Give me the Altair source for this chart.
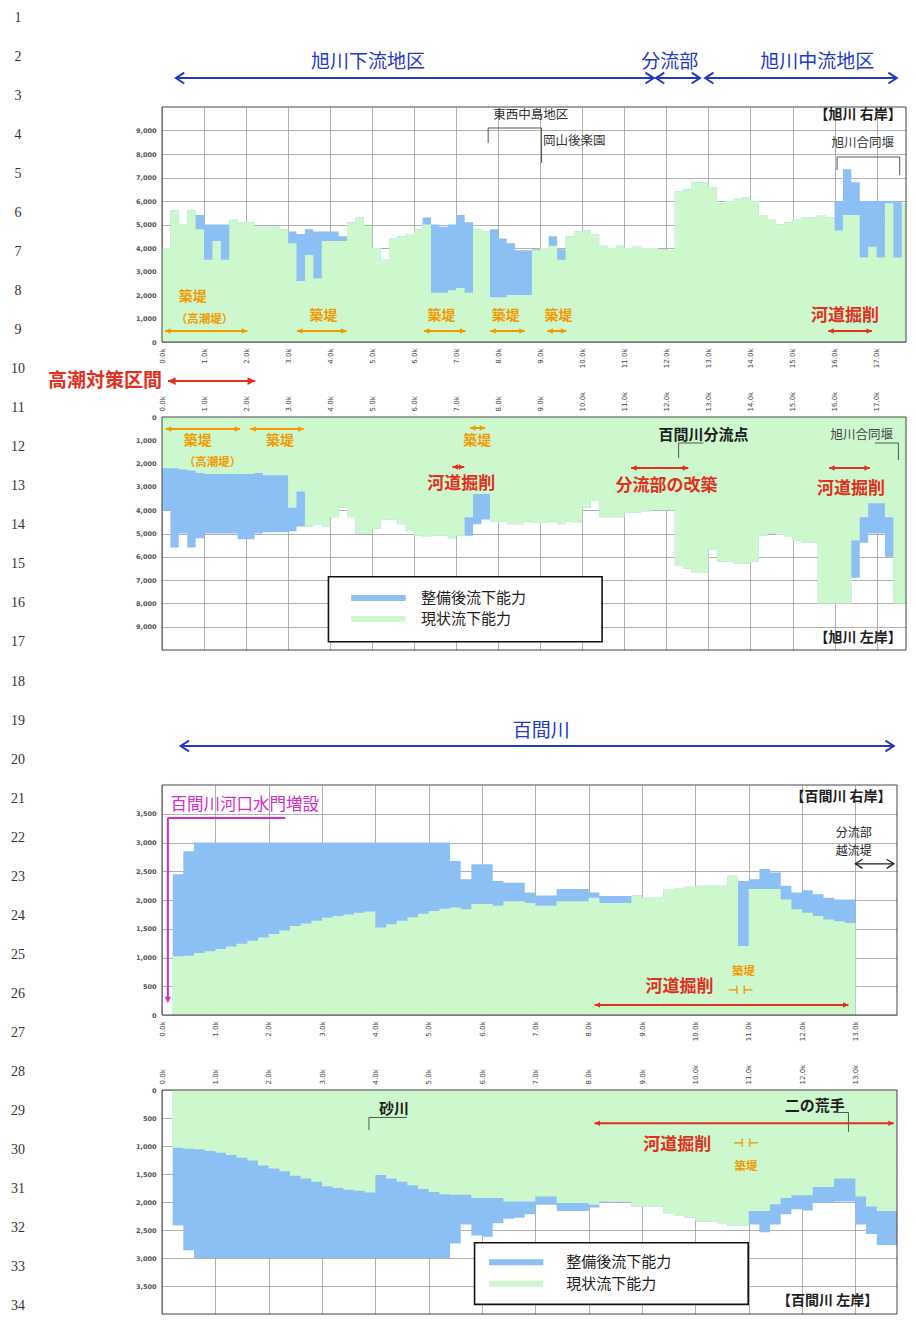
import altair as alt
import pandas as pd

JP = "Noto Sans CJK JP"
BLUE_FILL = "#8cc0f4"
GREEN_FILL = "#cdf8cd"
ANN_BLUE = "#2438c6"
RED = "#e2301f"
ORANGE = "#f29a00"
MAGENTA = "#d02ccb"
INK = "#1e1e1e"
GRID = "#9c9c9c"

# ---------------- sections (km) ----------------
ASAHI_KM = [
    0.0, 0.2, 0.4, 0.6, 0.8, 1.0, 1.2, 1.4, 1.6, 1.8,
    2.0, 2.2, 2.4, 2.6, 2.8, 3.0, 3.2, 3.4, 3.6, 3.8,
    4.0, 4.2, 4.4, 4.6, 4.8, 5.0, 5.2, 5.4, 5.6, 5.8,
    6.0, 6.2, 6.4, 6.6, 6.8, 7.0, 7.2, 7.4, 7.6, 7.8,
    8.0, 8.2, 8.4, 8.6, 8.8, 9.0, 9.2, 9.4, 9.6, 9.8,
    10.0, 10.2, 10.4, 10.6, 10.8, 11.0, 11.2, 11.4, 11.6, 11.8,
    12.0, 12.2, 12.4, 12.6, 12.8, 13.0, 13.2, 13.4, 13.6, 13.8,
    14.0, 14.2, 14.4, 14.6, 14.8, 15.0, 15.2, 15.4, 15.6, 15.8,
    16.0, 16.2, 16.4, 16.6, 16.8, 17.0, 17.2, 17.4, 17.6]
ASAHI_END = 17.7
ASAHI_TICKS = [0, 1, 2, 3, 4, 5, 6, 7, 8, 9, 10, 11, 12, 13, 14, 15, 16, 17]

# 旭川 右岸: 現状流下能力 (current) / 整備後流下能力 (after improvement)
ASAHI_R_CUR = [
    4000, 5600, 5000, 5600, 4800, 3500, 4300, 3500, 5200, 5100,
    5100, 4900, 4900, 4900, 4800, 4200, 2600, 3700, 2700, 4300,
    4300, 4300, 5100, 5300, 4900, 4000, 3500, 4400, 4500, 4600,
    4800, 5000, 2100, 2100, 2200, 2300, 2100, 4800, 4700, 1900,
    1900, 2000, 2000, 2000, 3900, 4000, 4100, 3500, 4500, 4700,
    4750, 4600, 4100, 4000, 4100, 4000, 4050, 4000, 4000, 3950,
    3900, 6400, 6500, 6800, 6800, 6600, 5900, 6000, 6100, 6150,
    6000, 5400, 5200, 5000, 5100, 5200, 5300, 5300, 5400, 5300,
    4750, 5400, 5400, 3600, 4050, 3600, 5900, 3600, 5900]
ASAHI_R_PLAN = [
    None, None, None, None, 5400, 5000, 5000, 5000, None, None,
    None, None, None, None, None, 4700, 4600, 4800, 4700, 4700,
    4700, 4500, None, None, None, None, None, None, None, None,
    None, 5300, 5000, 4900, 5000, 5400, 5100, None, None, 4800,
    4400, 4200, 3900, 3900, 3950, None, 4500, 3950, None, None,
    None, None, None, None, None, None, None, None, None, None,
    None, None, None, None, None, None, None, None, None, None,
    None, None, None, None, None, None, None, None, None, None,
    6000, 7350, 6800, 6000, 6000, 6000, 6000, 6000, None]

# 旭川 左岸
ASAHI_L_CUR = [
    2200, 2200, 2250, 2300, 2400, 2450, 2450, 2450, 2450, 2450,
    2450, 2400, 2500, 2500, 2500, 3900, 3200, 4700, 4600, 4700,
    4300, 3900, 4300, 5000, 5000, 4800, 4400, 4400, 4600, 4900,
    5100, 5150, 5100, 5100, 5200, 5100, 4300, 3300, 3300, 4500,
    4500, 4600, 4600, 4500, 4550, 4550, 4500, 4600, 4500, 4550,
    3900, 3600, 4300, 4300, 4300, 4100, 4100, 4050, 4000, 4000,
    4000, 6400, 6500, 6700, 6700, 5700, 6200, 6200, 6300, 6300,
    6200, 5100, 5000, 5050, 5150, 5300, 5400, 5400, 8000, 8000,
    8000, 8000, 5300, 4300, 3700, 3700, 4300, 8000, 8000]
ASAHI_L_PLAN = [
    4000, 5600, 5000, 5600, 5200, 5000, 5000, 5000, 5000, 5250,
    5250, 5000, 4950, 4950, 4950, 4900, 4700, None, None, None,
    None, None, None, None, None, None, None, None, None, None,
    None, None, None, None, None, None, 5100, 4600, 4400, None,
    None, None, None, None, None, None, None, None, None, None,
    None, None, None, None, None, None, None, None, None, None,
    None, None, None, None, None, None, None, None, None, None,
    None, None, None, None, None, None, None, None, None, None,
    None, None, 6900, 5400, 5000, 5000, 6000, None, None]

HYAKKEN_R_KM = [
    0.2, 0.4, 0.6, 0.8, 1.0, 1.2, 1.4, 1.6, 1.8, 2.0,
    2.2, 2.4, 2.6, 2.8, 3.0, 3.2, 3.4, 3.6, 3.8, 4.0,
    4.2, 4.4, 4.6, 4.8, 5.0, 5.2, 5.4, 5.6, 5.8, 6.0,
    6.2, 6.4, 6.6, 6.8, 7.0, 7.2, 7.4, 7.6, 7.8, 8.0,
    8.2, 8.4, 8.6, 8.8, 9.0, 9.2, 9.4, 9.6, 9.8, 10.0,
    10.2, 10.4, 10.6, 10.8, 11.0, 11.2, 11.4, 11.6, 11.8, 12.0,
    12.2, 12.4, 12.6, 12.8]
HYAKKEN_R_END = 13.0
HYAKKEN_L_KM = [
    0.2, 0.4, 0.6, 0.8, 1.0, 1.2, 1.4, 1.6, 1.8, 2.0,
    2.2, 2.4, 2.6, 2.8, 3.0, 3.2, 3.4, 3.6, 3.8, 4.0,
    4.2, 4.4, 4.6, 4.8, 5.0, 5.2, 5.4, 5.6, 5.8, 6.0,
    6.2, 6.4, 6.6, 6.8, 7.0, 7.2, 7.4, 7.6, 7.8, 8.0,
    8.2, 8.4, 8.6, 8.8, 9.0, 9.2, 9.4, 9.6, 9.8, 10.0,
    10.2, 10.4, 10.6, 10.8, 11.0, 11.2, 11.4, 11.6, 11.8, 12.0,
    12.2, 12.4, 12.6, 12.8, 13.0, 13.2, 13.4, 13.6]
HYAKKEN_L_END = 13.78
HYAKKEN_DOMAIN_END = 13.78
HYAKKEN_TICKS = [0, 1, 2, 3, 4, 5, 6, 7, 8, 9, 10, 11, 12, 13]

# 百間川 右岸
HYAKKEN_R_CUR = [
    1020, 1030, 1080, 1110, 1150, 1190, 1240, 1290, 1350, 1410,
    1470, 1550, 1590, 1640, 1690, 1720, 1750, 1780, 1800, 1520,
    1580, 1640, 1700, 1760, 1810, 1850, 1870, 1840, 1930, 1930,
    1900, 1980, 1980, 1950, 1900, 1900, 1980, 1980, 1980, 2040,
    1950, 1950, 1950, 2070, 2040, 2040, 2190, 2210, 2230, 2250,
    2250, 2250, 2420, 1200, 2190, 2190, 2190, 2010, 1840, 1780,
    1720, 1660, 1630, 1600]
HYAKKEN_R_PLAN = [
    2450, 2850, 3000, 3000, 3000, 3000, 3000, 3000, 3000, 3000,
    3000, 3000, 3000, 3000, 3000, 3000, 3000, 3000, 3000, 3000,
    3000, 3000, 3000, 3000, 3000, 3000, 2680, 2360, 2620, 2620,
    2330, 2300, 2300, 2130, 2080, 2080, 2190, 2190, 2190, 2130,
    2070, 2070, 2070, 2080, None, None, None, None, None, None,
    None, None, None, 2330, 2360, 2540, 2480, 2250, 2130, 2170,
    2100, 2040, 2010, 2010]

# 百間川 左岸
HYAKKEN_L_CUR = [
    1030, 1050, 1060, 1090, 1120, 1160, 1210, 1260, 1350, 1400,
    1450, 1530, 1580, 1640, 1720, 1750, 1780, 1800, 1830, 1520,
    1580, 1640, 1700, 1770, 1820, 1860, 1870, 1870, 1930, 1930,
    1930, 1990, 1990, 1990, 1900, 1900, 2020, 2020, 2020, 2050,
    1990, 1990, 1990, 2080, 2080, 2080, 2200, 2250, 2280, 2350,
    2350, 2380, 2420, 2420, 2160, 2160, 2040, 1930, 1880, 1880,
    1730, 1730, 1580, 1580, 1900, 2080, 2160, 2160]
HYAKKEN_L_PLAN = [
    2420, 2860, 3000, 3000, 3000, 3000, 3000, 3000, 3000, 3000,
    3000, 3000, 3000, 3000, 3000, 3000, 3000, 3000, 3000, 3000,
    3000, 3000, 3000, 3000, 3000, 3000, 2740, 2400, 2600, 2620,
    2380, 2300, 2280, 2220, 2050, 2050, 2160, 2160, 2160, 2100,
    2020, None, None, None, None, None, None, None, None, None,
    None, None, None, None, 2400, 2540, 2400, 2220, 2130, 2150,
    2020, 2020, 1990, 1990, 2400, 2570, 2770, 2770]

ASAHI_Y_TICKS = [0, 1000, 2000, 3000, 4000, 5000, 6000, 7000, 8000, 9000]
HYAKKEN_Y_TICKS = [0, 500, 1000, 1500, 2000, 2500, 3000, 3500]

LEGEND_NAMES = ["整備後流下能力", "現状流下能力"]
LINE_NUMBERS = list(range(1, 35))

# ---------------- annotations (km, capacity units) ----------------
A_TOP_LABELS = [("旭川下流地区", 4.9, 11900), ("分流部", 12.08, 11900), ("旭川中流地区", 15.59, 11900)]
A_TOP_ARROWS = [(0.33, 11.7, 11230), (11.75, 12.8, 11230), (12.92, 17.48, 11230)]
A_TIDE_LABEL = [("高潮対策区間", 0.0, -1660)]
A_TIDE_ARROW = [(0.14, 2.22, -1660)]
AR_EMB_LABELS = [("築堤", 0.73, 1915), ("築堤", 3.84, 1106), ("築堤", 6.65, 1106),
                 ("築堤", 8.18, 1106), ("築堤", 9.43, 1106)]
AR_TIDE_WALL = [("（高潮堤）", 1.01, 936)]
AR_EMB_ARROWS = [(0.07, 2.03, 468), (3.21, 4.39, 468), (6.23, 7.22, 468),
                 (7.81, 8.63, 468), (9.17, 9.62, 468)]
AR_DREDGE_LABELS = [("河道掘削", 16.25, 1106)]
AR_DREDGE_ARROWS = [(15.85, 16.89, 468)]
AR_PLACE_LABELS = [("東西中島地区", 8.77, 9660), ("岡山後楽園", 9.81, 8553), ("旭川合同堰", 16.67, 8468)]
AR_PLACE_LINES = [(7.76, 9106, 9.03, 9106), (7.76, 9106, 7.76, 8468), (9.03, 9106, 9.03, 7617),
                  (16.06, 7872, 17.55, 7872), (16.06, 7872, 16.06, 7319), (17.55, 7872, 17.55, 7106)]
AR_BANK = [("【旭川 右岸】", 16.56, 9660)]

AL_EMB_LABELS = [("築堤", 0.85, 1030), ("築堤", 2.81, 1030), ("築堤", 7.5, 1030)]
AL_TIDE_WALL = [("（高潮堤）", 1.2, 1974)]
AL_EMB_ARROWS = [(0.09, 1.86, 515), (2.10, 3.37, 515), (7.33, 7.69, 472)]
AL_RED_LABELS = [("河道掘削", 7.12, 2876), ("分流部の改築", 12.0, 2961), ("河道掘削", 16.39, 3090)]
AL_RED_ARROWS = [(6.91, 7.19, 2146), (11.16, 12.52, 2189), (15.87, 16.84, 2189)]
AL_FORK_LABEL = [("百間川分流点", 12.88, 773)]
AL_WEIR_LABEL = [("旭川合同堰", 16.65, 773)]
AL_PLACE_LINES = [(12.29, 1116, 12.88, 1116), (12.29, 1116, 12.29, 1760),
                  (16.96, 1116, 17.52, 1116), (17.52, 1116, 17.52, 1845)]
AL_LEGEND_BOX = [(3.96, 10.47, 6854, 9644)]
AL_LEGEND_BLUE = [(4.5, 5.8, 7768)]
AL_LEGEND_GREEN = [(4.5, 5.8, 8670)]
AL_LEGEND_TEXT = [(LEGEND_NAMES[0], 6.16, 7768), (LEGEND_NAMES[1], 6.16, 8670)]
AL_BANK = [("【旭川 左岸】", 16.56, 9485)]

H_TOP_LABEL = [("百間川", 7.11, 4939)]
H_TOP_ARROW = [(0.35, 13.72, 4678)]
HR_GATE_LABEL = [("百間川河口水門増設", 0.16, 3652)]
HR_GATE_LINES = [(0.11, 3426, 2.31, 3426), (0.11, 3426, 0.11, 280)]
HR_GATE_HEAD = [(0.11, 209)]
HR_WEIR_LABELS = [("分流部", 12.97, 3160), ("越流堤", 12.97, 2850)]
HR_WEIR_ARROW = [(13.0, 13.72, 2630)]
HR_EMB_LABEL = [("築堤", 10.9, 748)]
HR_EMB_MARK = [("⊣ ⊢", 10.85, 435)]
HR_DREDGE_LABEL = [("河道掘削", 9.7, 487)]
HR_DREDGE_ARROW = [(8.11, 12.87, 174)]
HR_BANK = [("【百間川 右岸】", 12.73, 3791)]

HL_PLACE_LABELS = [("砂川", 4.35, 332), ("二の荒手", 12.24, 280)]
HL_PLACE_LINES = [(3.88, 490, 4.59, 490), (3.88, 490, 3.88, 717),
                  (12.59, 402, 12.87, 402), (12.87, 402, 12.87, 752)]
HL_DREDGE_ARROW = [(8.11, 13.72, 594)]
HL_DREDGE_LABEL = [("河道掘削", 9.66, 979)]
HL_EMB_MARK = [("⊣ ⊢", 10.95, 944)]
HL_EMB_LABEL = [("築堤", 10.95, 1381)]
HL_LEGEND_BOX = [(5.86, 10.99, 2727, 3829)]
HL_LEGEND_BLUE = [(6.13, 7.15, 3077)]
HL_LEGEND_GREEN = [(6.13, 7.15, 3462)]
HL_LEGEND_TEXT = [(LEGEND_NAMES[0], 7.58, 3077), (LEGEND_NAMES[1], 7.58, 3462)]
HL_BANK = [("【百間川 左岸】", 12.48, 3776)]


# ---------------- helpers ----------------
def step_table(kms, end, cur, plan):
    plan_full = [p if p is not None else c for p, c in zip(plan, cur)]
    return pd.DataFrame({
        "km": list(kms) + [end],
        "cur": list(cur) + [cur[-1]],
        "plan": plan_full + [plan_full[-1]],
    })


def x_axis(values, orient):
    return alt.Axis(values=values, orient=orient, title="",
                    labelExpr="format(datum.value, '.1f') + 'k'",
                    labelAngle=270, labelFontSize=7, labelColor="#444",
                    labelFont="DejaVu Sans", labelPadding=6, labelFlush=False,
                    labelOverlap=False, ticks=False, domain=False,
                    grid=True, gridColor=GRID, gridWidth=0.8)


def y_axis(values):
    return alt.Axis(values=values, title="",
                    labelExpr="format(datum.value, ',d')",
                    labelFontSize=6.5, labelFontWeight="bold",
                    labelColor="#555", labelFont="DejaVu Sans", labelPadding=6,
                    labelOverlap=False, ticks=False, domain=False,
                    grid=True, gridColor=GRID, gridWidth=0.8)


class Panel:
    """Scales + axes shared by every layer of one panel."""

    def __init__(self, xs, ys, xa, ya):
        self.xs, self.ys, self.xa, self.ya = xs, ys, xa, ya

    def X(self, field):
        return alt.X(field, type="quantitative", scale=self.xs, axis=self.xa)

    def Y(self, field):
        return alt.Y(field, type="quantitative", scale=self.ys, axis=self.ya)

    def capacity(self, df):
        blue = alt.Chart(df).mark_area(interpolate="step-after", color=BLUE_FILL, opacity=1).encode(
            x=self.X("km"), y=self.Y("plan"))
        green = alt.Chart(df).mark_area(interpolate="step-after", color=GREEN_FILL, opacity=1).encode(
            x=self.X("km"), y=self.Y("cur"))
        return [blue, green]

    def texts(self, rows, color, size, weight="bold", align="center", font=JP):
        df = pd.DataFrame(rows, columns=["label", "x", "y"])
        return alt.Chart(df).mark_text(color=color, fontSize=size, fontWeight=weight,
                                       align=align, baseline="middle", font=font).encode(
            x=self.X("x"), y=self.Y("y"), text="label:N")

    def arrows(self, rows, color, width, head, filled):
        df = pd.DataFrame(rows, columns=["x1", "x2", "y"])
        if filled:
            rshape, lshape = "M-2,-1L0,0L-2,1Z", "M2,-1L0,0L2,1Z"
        else:
            rshape, lshape = "M-2,-1.3L0,0L-2,1.3", "M2,-1.3L0,0L2,1.3"
        line = alt.Chart(df).mark_rule(color=color, strokeWidth=width).encode(
            x=self.X("x1"), x2="x2:Q", y=self.Y("y"))
        lh = alt.Chart(df).mark_point(shape=lshape, size=head, filled=filled, color=color,
                                      strokeWidth=width, opacity=1).encode(x=self.X("x1"), y=self.Y("y"))
        rh = alt.Chart(df).mark_point(shape=rshape, size=head, filled=filled, color=color,
                                      strokeWidth=width, opacity=1).encode(x=self.X("x2"), y=self.Y("y"))
        return [line, lh, rh]

    def head(self, rows, shape, color, size):
        df = pd.DataFrame(rows, columns=["x", "y"])
        return alt.Chart(df).mark_point(shape=shape, size=size, filled=True, color=color,
                                        opacity=1).encode(x=self.X("x"), y=self.Y("y"))

    def segments(self, rows, color, width):
        df = pd.DataFrame(rows, columns=["x1", "y1", "x2", "y2"])
        return alt.Chart(df).mark_rule(color=color, strokeWidth=width).encode(
            x=self.X("x1"), y=self.Y("y1"), x2="x2:Q", y2="y2:Q")

    def boxes(self, rows, stroke, width, fill="white", fill_opacity=1.0):
        df = pd.DataFrame(rows, columns=["x1", "x2", "y1", "y2"])
        return alt.Chart(df).mark_rect(fill=fill, fillOpacity=fill_opacity, stroke=stroke,
                                       strokeWidth=width).encode(
            x=self.X("x1"), x2="x2:Q", y=self.Y("y1"), y2="y2:Q")

    def legend(self, box_rows, blue_rows, green_rows, text_rows):
        out = [self.boxes(box_rows, "#111", 1.6)]
        for rows, col in ((blue_rows, BLUE_FILL), (green_rows, GREEN_FILL)):
            df = pd.DataFrame(rows, columns=["x1", "x2", "y"])
            out.append(alt.Chart(df).mark_rule(color=col, strokeWidth=6).encode(
                x=self.X("x1"), x2="x2:Q", y=self.Y("y")))
        out.append(self.texts(text_rows, INK, 15, weight="normal", align="left"))
        return out


# ---------------- scales ----------------
XS_A = alt.Scale(domain=[0, ASAHI_END], nice=False, zero=False)
XS_H = alt.Scale(domain=[0, HYAKKEN_DOMAIN_END], nice=False, zero=False)
YS_AR = alt.Scale(domain=[0, 10000], nice=False)
YS_AL = alt.Scale(domain=[0, 10000], nice=False, reverse=True)
YS_HR = alt.Scale(domain=[0, 4000], nice=False)
YS_HL = alt.Scale(domain=[0, 4000], nice=False, reverse=True)

W_A, W_H = 744, 735

# ---------------- panel 1: 旭川 右岸 ----------------
P = Panel(XS_A, YS_AR, x_axis(ASAHI_TICKS, "bottom"), y_axis(ASAHI_Y_TICKS))
p1_layers = P.capacity(step_table(ASAHI_KM, ASAHI_END, ASAHI_R_CUR, ASAHI_R_PLAN)) + [
    P.boxes([(0, ASAHI_END, 0, 10000)], "#444", 1, fill_opacity=0),
    P.texts(A_TOP_LABELS, ANN_BLUE, 19, weight="normal"),
    *P.arrows(A_TOP_ARROWS, ANN_BLUE, 2, 70, False),
    P.texts(A_TIDE_LABEL, RED, 19, align="right"),
    *P.arrows(A_TIDE_ARROW, RED, 2.2, 60, True),
    P.texts(AR_EMB_LABELS, ORANGE, 14),
    P.texts(AR_TIDE_WALL, ORANGE, 11.5),
    *P.arrows(AR_EMB_ARROWS, ORANGE, 2, 30, True),
    P.texts(AR_DREDGE_LABELS, RED, 17),
    *P.arrows(AR_DREDGE_ARROWS, RED, 2, 30, True),
    P.texts(AR_PLACE_LABELS, "#333", 12.5, weight="normal"),
    P.segments(AR_PLACE_LINES, "#555", 1),
    P.texts(AR_BANK, INK, 14),
]
line_nos = alt.Chart(pd.DataFrame({"n": LINE_NUMBERS})).mark_text(
    font="Liberation Serif", fontSize=14, color="#333", baseline="middle").encode(
    x=alt.value(-144),
    y=alt.Y("n:Q", scale=alt.Scale(domain=[1, 34], range=[-89, 1199]), axis=None),
    text="n:N")
p1 = alt.layer(alt.layer(*p1_layers), line_nos).resolve_scale(y="independent").properties(
    width=W_A, height=235)

# ---------------- panel 2: 旭川 左岸 ----------------
P = Panel(XS_A, YS_AL, x_axis(ASAHI_TICKS, "top"), y_axis(ASAHI_Y_TICKS))
p2_layers = P.capacity(step_table(ASAHI_KM, ASAHI_END, ASAHI_L_CUR, ASAHI_L_PLAN)) + [
    P.boxes([(0, ASAHI_END, 0, 10000)], "#444", 1, fill_opacity=0),
    P.texts(AL_EMB_LABELS, ORANGE, 14),
    P.texts(AL_TIDE_WALL, ORANGE, 11.5),
    *P.arrows(AL_EMB_ARROWS, ORANGE, 2, 30, True),
    P.texts(AL_RED_LABELS, RED, 17),
    *P.arrows(AL_RED_ARROWS, RED, 2, 30, True),
    P.texts(AL_FORK_LABEL, INK, 15),
    P.texts(AL_WEIR_LABEL, "#444", 12.5, weight="normal"),
    P.segments(AL_PLACE_LINES, "#555", 1),
    *P.legend(AL_LEGEND_BOX, AL_LEGEND_BLUE, AL_LEGEND_GREEN, AL_LEGEND_TEXT),
    P.texts(AL_BANK, INK, 14),
]
p2 = alt.layer(*p2_layers).properties(width=W_A, height=233)

# ---------------- panel 3: 百間川 右岸 ----------------
P = Panel(XS_H, YS_HR, x_axis(HYAKKEN_TICKS, "bottom"), y_axis(HYAKKEN_Y_TICKS))
p3_layers = P.capacity(step_table(HYAKKEN_R_KM, HYAKKEN_R_END, HYAKKEN_R_CUR, HYAKKEN_R_PLAN)) + [
    P.boxes([(0, HYAKKEN_DOMAIN_END, 0, 4000)], "#444", 1, fill_opacity=0),
    P.texts(H_TOP_LABEL, ANN_BLUE, 19, weight="normal"),
    *P.arrows(H_TOP_ARROW, ANN_BLUE, 2, 70, False),
    P.texts(HR_GATE_LABEL, MAGENTA, 16.5, weight="normal", align="left"),
    P.segments(HR_GATE_LINES, MAGENTA, 2),
    P.head(HR_GATE_HEAD, "M-1,-2L0,0L1,-2Z", MAGENTA, 40),
    P.texts(HR_WEIR_LABELS, INK, 12, weight="normal"),
    *P.arrows(HR_WEIR_ARROW, INK, 1.3, 50, False),
    P.texts(HR_EMB_LABEL, ORANGE, 11.5),
    P.texts(HR_EMB_MARK, ORANGE, 12, font="DejaVu Sans"),
    P.texts(HR_DREDGE_LABEL, RED, 17),
    *P.arrows(HR_DREDGE_ARROW, RED, 2, 30, True),
    P.texts(HR_BANK, INK, 14),
]
p3 = alt.layer(*p3_layers).properties(width=W_H, height=230)

# ---------------- panel 4: 百間川 左岸 ----------------
P = Panel(XS_H, YS_HL, x_axis(HYAKKEN_TICKS, "top"), y_axis(HYAKKEN_Y_TICKS))
p4_layers = P.capacity(step_table(HYAKKEN_L_KM, HYAKKEN_L_END, HYAKKEN_L_CUR, HYAKKEN_L_PLAN)) + [
    P.boxes([(0, HYAKKEN_DOMAIN_END, 0, 4000)], "#444", 1, fill_opacity=0),
    P.texts(HL_PLACE_LABELS, INK, 15),
    P.segments(HL_PLACE_LINES, "#555", 1),
    *P.arrows(HL_DREDGE_ARROW, RED, 2, 30, True),
    P.texts(HL_DREDGE_LABEL, RED, 17),
    P.texts(HL_EMB_MARK, ORANGE, 12, font="DejaVu Sans"),
    P.texts(HL_EMB_LABEL, ORANGE, 11.5),
    *P.legend(HL_LEGEND_BOX, HL_LEGEND_BLUE, HL_LEGEND_GREEN, HL_LEGEND_TEXT),
    P.texts(HL_BANK, INK, 14),
]
p4 = alt.layer(*p4_layers).properties(width=W_H, height=224)


def spacer(h):
    return alt.Chart(pd.DataFrame({"z": [0]})).mark_point(opacity=0).encode(
        x=alt.value(0), y=alt.value(0)).properties(width=10, height=h)


chart = alt.vconcat(p1, spacer(1), p2, spacer(61), p3, spacer(1), p4,
                    spacing=37, bounds="flush").properties(
    padding={"left": 3, "top": 3, "right": 0, "bottom": 0},
    background="white",
).configure_view(strokeWidth=0)

chart.save("out.html", embed_options={"renderer": "svg", "actions": False})
